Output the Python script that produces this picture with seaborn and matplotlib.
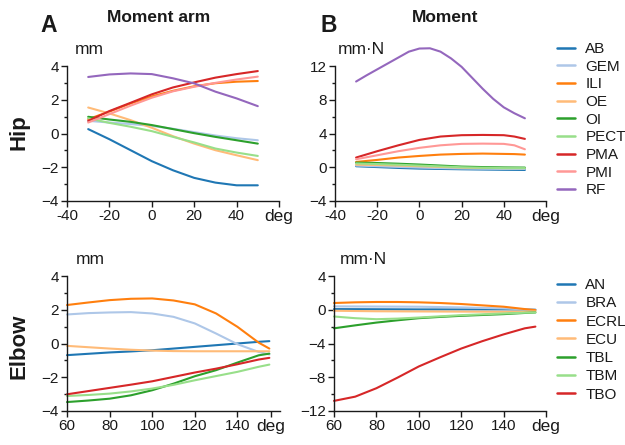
import numpy as np
import pandas as pd
import matplotlib
matplotlib.use("Agg")
import matplotlib.pyplot as plt
import seaborn as sns
from matplotlib.ticker import MultipleLocator
from matplotlib.lines import Line2D

sns.set_theme(style="ticks")
plt.rcParams['font.family'] = ['Liberation Sans', 'DejaVu Sans']

# ---------------- Hip data ----------------
hip_muscles = ["AB", "GEM", "ILI", "OE", "OI", "PECT", "PMA", "PMI", "RF"]
hip_colors = ["#1f77b4", "#aec7e8", "#ff7f0e", "#ffbb78", "#2ca02c",
              "#98df8a", "#d62728", "#ff9896", "#9467bd"]

hip_arm_x = [-30, -20, -10, 0, 10, 20, 30, 40, 50]
hip_arm = {
    "AB":   [0.26, -0.34, -0.99, -1.64, -2.18, -2.63, -2.91, -3.07, -3.07],
    "GEM":  [0.75, 0.65, 0.56, 0.45, 0.28, 0.08, -0.12, -0.28, -0.40],
    "ILI":  [0.85, 1.30, 1.78, 2.20, 2.53, 2.80, 2.98, 3.07, 3.11],
    "OE":   [1.54, 1.19, 0.79, 0.34, -0.16, -0.60, -0.99, -1.29, -1.58],
    "OI":   [0.99, 0.83, 0.69, 0.50, 0.26, 0.02, -0.20, -0.40, -0.60],
    "PECT": [0.90, 0.63, 0.40, 0.14, -0.20, -0.53, -0.89, -1.13, -1.33],
    "PMA":  [0.75, 1.33, 1.82, 2.32, 2.73, 3.03, 3.31, 3.52, 3.70],
    "PMI":  [0.65, 1.15, 1.65, 2.12, 2.50, 2.77, 3.00, 3.20, 3.37],
    "RF":   [3.35, 3.50, 3.56, 3.52, 3.27, 2.97, 2.48, 2.08, 1.62],
}

hip_mom_x = [-30, -20, -10, 0, 10, 20, 30, 40, 45, 50]
hip_mom = {
    "AB":   [0.12, 0.02, -0.08, -0.16, -0.20, -0.24, -0.27, -0.30, -0.31, -0.32],
    "GEM":  [0.20, 0.12, 0.04, -0.04, -0.10, -0.15, -0.18, -0.20, -0.20, -0.20],
    "ILI":  [0.63, 0.87, 1.15, 1.34, 1.50, 1.58, 1.62, 1.58, 1.56, 1.50],
    "OE":   [0.30, 0.27, 0.20, 0.12, 0.04, -0.04, -0.08, -0.10, -0.10, -0.10],
    "OI":   [0.55, 0.50, 0.42, 0.32, 0.20, 0.08, 0.02, -0.02, -0.03, -0.04],
    "PECT": [0.45, 0.38, 0.30, 0.20, 0.10, 0.00, -0.06, -0.10, -0.10, -0.10],
    "PMA":  [1.15, 1.90, 2.60, 3.24, 3.64, 3.80, 3.83, 3.80, 3.64, 3.36],
    "PMI":  [0.95, 1.42, 1.90, 2.30, 2.60, 2.77, 2.80, 2.77, 2.60, 2.13],
}
hip_rf_mom_x = [-30, -25, -20, -15, -10, -5, 0, 5, 10, 15, 20, 25, 30, 35, 40, 45, 50]
hip_rf_mom = [10.16, 10.9, 11.6, 12.3, 13.0, 13.7, 14.07, 14.1, 13.7, 12.9,
              11.9, 10.6, 9.3, 8.1, 7.1, 6.4, 5.8]

# ---------------- Elbow data ----------------
elb_muscles = ["AN", "BRA", "ECRL", "ECU", "TBL", "TBM", "TBO"]
elb_colors = ["#1f77b4", "#aec7e8", "#ff7f0e", "#ffbb78", "#2ca02c",
              "#98df8a", "#d62728"]

elb_x = [60, 70, 80, 90, 100, 110, 120, 130, 140, 150, 155]
elb_arm = {
    "AN":   [-0.69, -0.61, -0.53, -0.47, -0.40, -0.30, -0.20, -0.10, 0.00, 0.10, 0.14],
    "BRA":  [1.72, 1.80, 1.84, 1.86, 1.78, 1.58, 1.19, 0.59, -0.04, -0.50, -0.65],
    "ECRL": [2.28, 2.43, 2.57, 2.65, 2.67, 2.55, 2.32, 1.78, 0.99, 0.05, -0.30],
    "ECU":  [-0.14, -0.22, -0.30, -0.37, -0.42, -0.45, -0.46, -0.46, -0.46, -0.46, -0.46],
    "TBL":  [-3.47, -3.38, -3.27, -3.07, -2.77, -2.38, -1.94, -1.58, -1.13, -0.70, -0.60],
    "TBM":  [-3.11, -3.05, -2.97, -2.84, -2.67, -2.45, -2.18, -1.93, -1.68, -1.38, -1.25],
    "TBO":  [-3.01, -2.82, -2.63, -2.44, -2.24, -1.98, -1.72, -1.49, -1.23, -0.95, -0.85],
}
elb_mom = {
    "AN":   [0.08, 0.07, 0.06, 0.05, 0.04, 0.04, 0.04, 0.04, 0.04, 0.02, 0.00],
    "BRA":  [0.40, 0.39, 0.38, 0.37, 0.36, 0.32, 0.28, 0.22, 0.16, 0.05, 0.00],
    "ECRL": [0.80, 0.88, 0.92, 0.92, 0.88, 0.80, 0.68, 0.52, 0.36, 0.08, -0.04],
    "ECU":  [-0.12, -0.15, -0.18, -0.19, -0.20, -0.21, -0.22, -0.23, -0.24, -0.22, -0.20],
    "TBL":  [-2.20, -1.85, -1.52, -1.25, -1.00, -0.85, -0.72, -0.62, -0.52, -0.38, -0.32],
    "TBM":  [-0.80, -1.00, -1.12, -1.05, -0.92, -0.78, -0.64, -0.54, -0.44, -0.35, -0.32],
    "TBO":  [-10.8, -10.3, -9.3, -8.04, -6.72, -5.64, -4.6, -3.72, -2.92, -2.2, -2.0],
}


def long_df(xs, series, order):
    rows = []
    for m in order:
        if m not in series:
            continue
        x = xs[m] if isinstance(xs, dict) else xs
        for xv, yv in zip(x, series[m]):
            rows.append((m, xv, yv))
    return pd.DataFrame(rows, columns=["muscle", "angle", "value"])


df_hip_arm = long_df(hip_arm_x, hip_arm, hip_muscles)
hip_mom_all = dict(hip_mom)
hip_mom_all["RF"] = hip_rf_mom
hip_mom_xs = {m: hip_mom_x for m in hip_mom}
hip_mom_xs["RF"] = hip_rf_mom_x
df_hip_mom = long_df(hip_mom_xs, hip_mom_all, hip_muscles)
df_elb_arm = long_df(elb_x, elb_arm, elb_muscles)
df_elb_mom = long_df(elb_x, elb_mom, elb_muscles)

W, H = 625, 445
fig = plt.figure(figsize=(W / 100, H / 100), dpi=100)


def ax_px(x0, y0, x1, y1):
    return fig.add_axes([x0 / W, 1 - y1 / H, (x1 - x0) / W, (y1 - y0) / H])


ax1 = ax_px(67, 66, 279, 201)
ax2 = ax_px(335, 66, 546, 201)
ax3 = ax_px(67, 276, 280, 411)
ax4 = ax_px(334, 276, 546, 411)

hip_pal = dict(zip(hip_muscles, hip_colors))
elb_pal = dict(zip(elb_muscles, elb_colors))
tc = "#1a1a1a"

for ax, df, pal, order in [(ax1, df_hip_arm, hip_pal, hip_muscles),
                           (ax2, df_hip_mom, hip_pal, hip_muscles),
                           (ax3, df_elb_arm, elb_pal, elb_muscles),
                           (ax4, df_elb_mom, elb_pal, elb_muscles)]:
    sns.lineplot(data=df, x="angle", y="value", hue="muscle", hue_order=order,
                 palette=pal, ax=ax, legend=False, linewidth=1.5,
                 estimator=None, sort=False)
    for ln in ax.lines:
        ln.set_clip_on(False)
    ax.set_xlabel("")
    ax.set_ylabel("")
    for s in ["top", "right"]:
        ax.spines[s].set_visible(False)
    for s in ["left", "bottom"]:
        ax.spines[s].set_linewidth(1.0)
        ax.spines[s].set_color(tc)
    ax.tick_params(axis="both", which="major", length=4, width=1.0,
                   labelsize=11, color=tc, labelcolor=tc, pad=2)
    ax.tick_params(axis="y", which="minor", length=2.5, width=1.0, color=tc)
    ax.tick_params(axis="x", which="minor", length=0)

# axes limits / ticks
ax1.set_xlim(-40, 60); ax1.set_ylim(-4, 4)
ax1.set_xticks([-40, -20, 0, 20, 40, 60])
ax1.set_xticklabels(["-40", "-20", "0", "20", "40", "deg"])
ax1.set_yticks([-4, -2, 0, 2, 4]); ax1.yaxis.set_minor_locator(MultipleLocator(1))

ax2.set_xlim(-40, 60); ax2.set_ylim(-4, 12)
ax2.set_xticks([-40, -20, 0, 20, 40, 60])
ax2.set_xticklabels(["-40", "-20", "0", "20", "40", "deg"])
ax2.set_yticks([-4, 0, 4, 8, 12]); ax2.yaxis.set_minor_locator(MultipleLocator(2))

ax3.set_xlim(60, 160); ax3.set_ylim(-4, 4)
ax3.set_xticks([60, 80, 100, 120, 140, 155.6])
ax3.set_xticklabels(["60", "80", "100", "120", "140", "deg"])
ax3.set_yticks([-4, -2, 0, 2, 4]); ax3.yaxis.set_minor_locator(MultipleLocator(1))

ax4.set_xlim(60, 160); ax4.set_ylim(-12, 4)
ax4.set_xticks([60, 80, 100, 120, 140, 160])
ax4.set_xticklabels(["60", "80", "100", "120", "140", "deg"])
ax4.set_yticks([-12, -8, -4, 0, 4]); ax4.yaxis.set_minor_locator(MultipleLocator(2))

for ax in [ax1, ax2, ax3, ax4]:
    ax.get_xticklabels()[-1].set_fontsize(12.5)


def ftext(x, y, s, **kw):
    fig.text(x / W, 1 - y / H, s, **kw)


ftext(159, 17, "Moment arm", ha="center", va="center", fontsize=12.5,
      fontweight="bold", color=tc)
ftext(445, 18, "Moment", ha="center", va="center", fontsize=12.5,
      fontweight="bold", color=tc)
ftext(49, 25, "A", ha="center", va="center", fontsize=16.5, fontweight="bold", color=tc)
ftext(329, 25, "B", ha="center", va="center", fontsize=16.5, fontweight="bold", color=tc)
ftext(19, 132, "Hip", ha="center", va="center", fontsize=16, fontweight="bold",
      rotation=90, color=tc)
ftext(19, 346, "Elbow", ha="center", va="center", fontsize=16, fontweight="bold",
      rotation=90, color=tc)
ftext(75, 49, "mm", ha="left", va="center", fontsize=12.5, color=tc)
ftext(338, 49, "mm·N", ha="left", va="center", fontsize=12.5, color=tc)
ftext(76, 259, "mm", ha="left", va="center", fontsize=12.5, color=tc)
ftext(340, 259, "mm·N", ha="left", va="center", fontsize=12.5, color=tc)


def make_legend(names, colors, top_px, spacing):
    handles = [Line2D([], [], color=c, lw=1.8) for c in colors]
    leg = fig.legend(handles, names, loc="upper left",
                     bbox_to_anchor=(557 / W, 1 - top_px / H),
                     frameon=False, fontsize=11, handlelength=1.15,
                     handletextpad=0.7, labelspacing=spacing, borderpad=0,
                     borderaxespad=0)
    for t in leg.get_texts():
        t.set_color(tc)
    return leg


make_legend(hip_muscles, hip_colors, 42, 0.24)
make_legend(elb_muscles, elb_colors, 278, 0.28)

fig.savefig("out.png", dpi=100)
